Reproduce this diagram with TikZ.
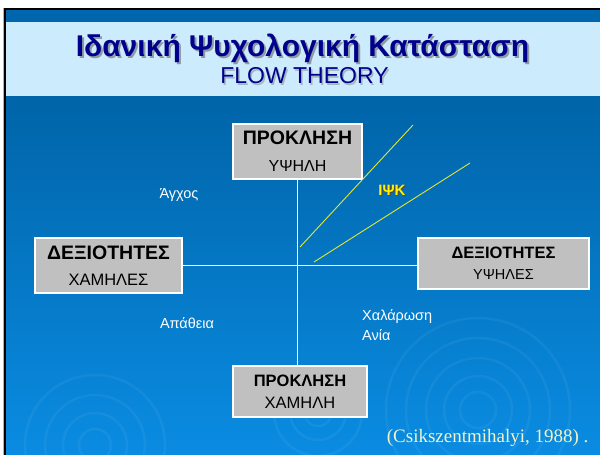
\documentclass[tikz,border=0pt]{standalone}
\usepackage{fontspec}
\setmainfont{Liberation Sans}
\newfontfamily\citefont{Liberation Serif}
\definecolor{bandblue}{HTML}{0066AD}
\definecolor{titlebg}{HTML}{CCEBFC}
\definecolor{bgtop}{HTML}{0064A8}
\definecolor{bgbot}{HTML}{0A8CE2}
\definecolor{navy}{HTML}{00008C}
\definecolor{boxgray}{HTML}{C0C0C0}
\definecolor{ylw}{HTML}{E6E62E}
\definecolor{citecol}{HTML}{F2F2C8}
\tikzset{
  box/.style={draw=white, line width=1.3pt, fill=boxgray, inner sep=0pt, align=center, text=black},
  axis/.style={draw=white, line width=1.8pt},
  flowline/.style={draw=ylw, line width=0.9pt},
  lbl/.style={text=white, font=\fontsize{14.5}{17}\selectfont, align=left, inner sep=0pt},
  ripple/.style={draw=white, opacity=0.05, line width=2.5pt}
}
\begin{document}
\begin{tikzpicture}[x=1pt,y=-1pt]
\useasboundingbox (0,0) rectangle (600,455);
\fill[white] (0,0) rectangle (600,455);
\shade[top color=bgtop, bottom color=bgbot] (6,96) rectangle (600,455);
\fill[bandblue] (6,10) rectangle (600,22);
\fill[titlebg] (6,22) rectangle (600,96);
\fill[black] (4,8) rectangle (600,10);
\fill[black] (4,8) rectangle (6,455);
\fill[gray!60] (3,8) rectangle (4,455);
% ripples
\foreach \r in {18,34,52,72,92} {\draw[ripple] (478,410) circle (\r);}
\foreach \r in {14,28,44} {\draw[ripple] (318,412) circle (\r);}
\foreach \r in {16,32,50,70} {\draw[ripple] (95,445) circle (\r);}
% title
\node[text=black!60, opacity=0.6, font=\fontsize{30}{32}\bfseries] at (304.5,50) {Ιδανική Ψυχολογική Κατάσταση};
\node[text=navy, font=\fontsize{30}{32}\bfseries] (title) at (302.5,48) {Ιδανική Ψυχολογική Κατάσταση};
\node[text=black!50, opacity=0.5, font=\fontsize{23}{25}\selectfont] at (306,77.5) {FLOW THEORY};
\node[text=navy, font=\fontsize{23}{25}\selectfont] (sub) at (304.5,76) {FLOW THEORY};
% boxes
\node[box, minimum width=129pt, minimum height=55pt] (top) at (297.5,151.5)
  {{\fontsize{19.5}{19.5}\bfseries ΠΡΟΚΛΗΣΗ}\\[15pt]{\fontsize{16}{16}\selectfont ΥΨΗΛΗ}};
\node[box, minimum width=147pt, minimum height=55pt] (left) at (108.5,265.5)
  {{\fontsize{19.5}{19.5}\bfseries ΔΕΞΙΟΤΗΤΕΣ}\\[14pt]{\fontsize{16.5}{16.5}\selectfont ΧΑΜΗΛΕΣ}};
\node[box, minimum width=171pt, minimum height=51pt] (right) at (503.5,263.5)
  {{\fontsize{16.5}{16.5}\bfseries ΔΕΞΙΟΤΗΤΕΣ}\\[9pt]{\fontsize{14.5}{14.5}\selectfont ΥΨΗΛΕΣ}};
\node[box, minimum width=134pt, minimum height=51pt] (bottom) at (300,391.5)
  {{\fontsize{16.5}{16.5}\bfseries ΠΡΟΚΛΗΣΗ}\\[10pt]{\fontsize{16.5}{16.5}\selectfont ΧΑΜΗΛΗ}};
% axes
\draw[axis] (top.south) -- (top.south |- bottom.north);
\draw[axis] (left.east) -- (left.east -| right.west);
% flow channel
\coordinate (f1a) at (300,247);
\coordinate (f1b) at (413,125);
\coordinate (f2a) at (314,262);
\coordinate (f2b) at (470,163);
\draw[flowline] (f1a) -- (f1b);
\draw[flowline] (f2a) -- (f2b);
\node[text=black!70, font=\fontsize{15}{16}\bfseries] at (393.2,191.2) {ΙΨΚ};
\node[text=yellow, font=\fontsize{15}{16}\bfseries] (ipk) at (392,190) {ΙΨΚ};
% labels
\node[lbl] (anx) at (179,195) {Άγχος};
\node[lbl] (apa) at (187,323) {Απάθεια};
\node[lbl, anchor=west] (rel) at (362,325) {Χαλάρωση\\[3pt]Ανία};
% citation
\node[text=citecol, font=\citefont\fontsize{19}{20}\selectfont, anchor=east] (cite) at (592,438) {(Csikszentmihalyi, 1988) .};
\end{tikzpicture}
\end{document}
